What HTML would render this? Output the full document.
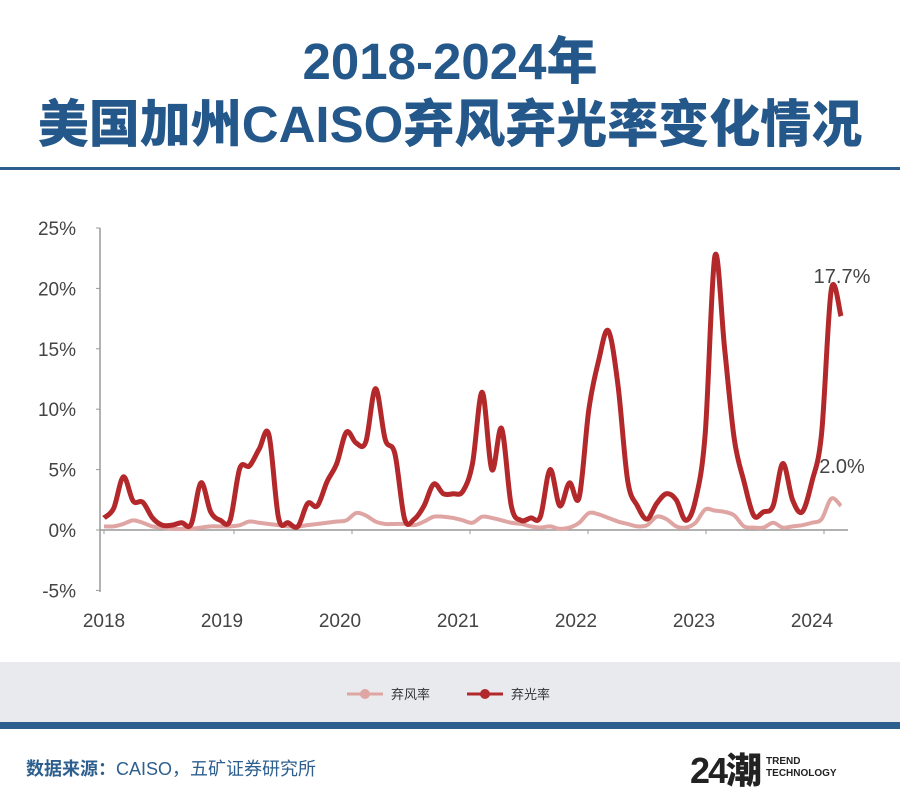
<!DOCTYPE html>
<html><head><meta charset="utf-8"><style>
body{margin:0;width:900px;height:810px;background:#fff;font-family:"Liberation Sans","Noto Sans CJK SC",sans-serif;overflow:hidden;position:relative}
.t{position:absolute;left:0;width:900px;text-align:center;color:#24578a;font-weight:900;font-size:51px;line-height:60px;font-family:"Liberation Sans","Noto Sans CJK SC",sans-serif}
</style></head><body>
<div class="t" style="top:32px">2018-2024年</div>
<div class="t" style="top:95px">美国加州CAISO弃风弃光率变化情况</div>
<div style="position:absolute;left:0;top:167px;width:900px;height:3px;background:#2d5f8e"></div>
<svg id="chart" width="900" height="660" style="position:absolute;left:0;top:0"></svg>
<div style="position:absolute;left:0;top:662px;width:900px;height:60px;background:#e8eaee"></div>
<div style="position:absolute;left:347px;top:684px;font-size:13px;color:#333;display:flex;align-items:center"><svg width="36" height="12"><line x1="0" y1="6" x2="36" y2="6" stroke="#dea5a3" stroke-width="3"/><circle cx="18" cy="6" r="5" fill="#dea5a3"/></svg><span style="margin-left:8px">弃风率</span></div>
<div style="position:absolute;left:467px;top:684px;font-size:13px;color:#333;display:flex;align-items:center"><svg width="36" height="12"><line x1="0" y1="6" x2="36" y2="6" stroke="#b3282a" stroke-width="3"/><circle cx="18" cy="6" r="5" fill="#b3282a"/></svg><span style="margin-left:8px">弃光率</span></div>
<div style="position:absolute;left:0;top:722px;width:900px;height:7px;background:#2d5f8e"></div>
<div style="position:absolute;left:26px;top:755px;font-size:18px;color:#2d5f8e"><b>数据来源：</b>CAISO，五矿证券研究所</div>
<div style="position:absolute;left:690px;top:742px;display:flex;align-items:center">
<span style="font-size:36px;font-weight:900;color:#222;letter-spacing:-2px">24潮</span>
<span style="font-size:10px;font-weight:bold;color:#222;line-height:12px;margin-left:6px">TREND<br>TECHNOLOGY</span></div>
<script>
const yTicks=[-5,0,5,10,15,20,25];
const years=["2018","2019","2020","2021","2022","2023","2024"];
const solar=[1.0,1.8,4.4,2.4,2.3,1.0,0.4,0.4,0.6,0.5,3.9,1.5,
0.8,0.8,5.1,5.3,6.7,7.9,1.0,0.6,0.3,2.2,2.0,4.0,
5.5,8.1,7.2,7.3,11.7,7.5,6.3,0.9,0.9,2.0,3.8,3.0,
3.0,3.2,5.5,11.4,5.0,8.4,2.0,0.8,1.0,1.1,5.0,2.0,
3.9,2.7,10.0,14.0,16.5,12.0,4.1,2.0,0.9,2.2,3.0,2.5,
0.8,2.5,8.0,22.7,15.0,7.5,4.0,1.2,1.5,2.0,5.5,2.5,
1.5,4.0,8.0,19.9,17.7];
const wind=[0.3,0.3,0.5,0.8,0.6,0.3,0.2,0.1,0.1,0.1,0.2,0.3,
0.3,0.3,0.4,0.7,0.6,0.5,0.4,0.3,0.3,0.4,0.5,0.6,
0.7,0.8,1.4,1.2,0.7,0.5,0.5,0.5,0.4,0.7,1.1,1.1,
1.0,0.8,0.6,1.1,1.0,0.8,0.6,0.5,0.3,0.2,0.3,0.1,
0.2,0.6,1.4,1.3,1.0,0.7,0.5,0.3,0.4,1.1,0.9,0.3,
0.2,0.6,1.7,1.6,1.5,1.2,0.3,0.2,0.2,0.6,0.2,0.3,
0.4,0.6,0.9,2.6,2.0];
const labels=[{s:"17.7%",series:"solar"},{s:"2.0%",series:"wind"}];
const svg=document.getElementById('chart');const NS='http://www.w3.org/2000/svg';
const y=v=>530-v*12.08;
const x=i=>104+i*(737/(solar.length-1));
const xYear=k=>104+k*118;
function mk(t,a){const e=document.createElementNS(NS,t);for(const k in a)e.setAttribute(k,a[k]);svg.appendChild(e);return e;}
let e=mk('line',{x1:100,y1:228,x2:100,y2:592,stroke:'#999','stroke-width':1.5});


e=mk('line',{x1:100,y1:y(0),x2:848,y2:y(0),stroke:'#999','stroke-width':1.5});


yTicks.forEach(v=>{mk('line',{x1:96,y1:y(v),x2:100,y2:y(v),stroke:'#999'});
const t=mk('text',{x:76,y:y(v)+7,'text-anchor':'end','font-size':19,fill:'#444'});t.textContent=v+'%';

});
years.forEach((s,k)=>{mk('line',{x1:xYear(k)+(k?12:0),y1:y(0),x2:xYear(k)+(k?12:0),y2:y(0)+4,stroke:'#999'});
const t=mk('text',{x:xYear(k),y:627,'text-anchor':'middle','font-size':19,fill:'#444'});t.textContent=s;

});
function path(d){const p=d.map((v,i)=>[x(i),y(v)]);let s='M'+p[0];for(let i=0;i<p.length-1;i++){const a=p[Math.max(0,i-1)],b=p[i],c=p[i+1],dd=p[Math.min(p.length-1,i+2)];
s+=' C'+(b[0]+(c[0]-a[0])/6)+','+(b[1]+(c[1]-a[1])/6)+' '+(c[0]-(dd[0]-b[0])/6)+','+(c[1]-(dd[1]-b[1])/6)+' '+c;}return s;}
e=mk('path',{d:path(wind),fill:'none',stroke:'#dea5a3','stroke-width':4,'stroke-linejoin':'round'});


e=mk('path',{d:path(solar),fill:'none',stroke:'#b3282a','stroke-width':5,'stroke-linejoin':'round'});


e=mk('text',{x:842,y:283,'text-anchor':'middle','font-size':20,fill:'#444'});e.textContent=labels[0].s;


e=mk('text',{x:842,y:473,'text-anchor':'middle','font-size':20,fill:'#444'});e.textContent=labels[1].s;


</script>
</body></html>
